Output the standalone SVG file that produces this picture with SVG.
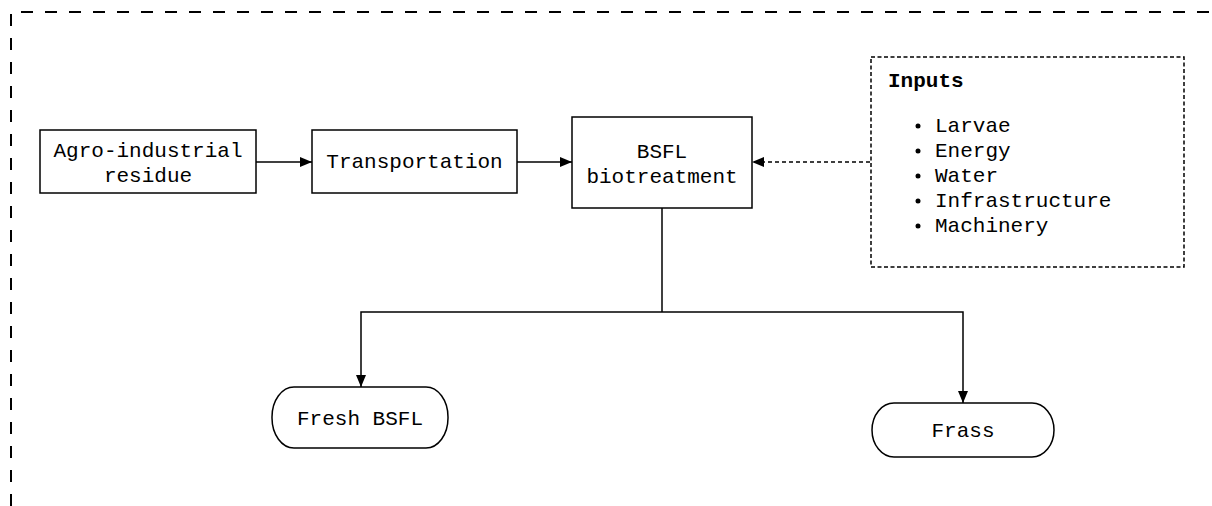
<svg xmlns="http://www.w3.org/2000/svg" width="1212" height="506" viewBox="0 0 1212 506">
<style>
.box{fill:#fff;stroke:#000;stroke-width:1.5}
.dot{fill:none;stroke:#000;stroke-width:1.5;stroke-dasharray:4 2.5}
.t{font-family:"Liberation Mono","Courier New",monospace;font-size:21px;fill:#000}
.c{text-anchor:middle}
.b{font-weight:bold}
.ln{fill:none;stroke:#000;stroke-width:1.5}
.dl{fill:none;stroke:#000;stroke-width:1.5;stroke-dasharray:4 3}
.frame{fill:none;stroke:#000;stroke-width:2;stroke-dasharray:12 12}
</style>
<defs>
<marker id="ah" viewBox="0 0 12 10" refX="12" refY="5" markerWidth="12" markerHeight="10" markerUnits="userSpaceOnUse" orient="auto">
<path d="M0,0 L12,5 L0,10 Z" fill="#000"/>
</marker>
</defs>
<rect width="1212" height="506" fill="#fff"/>
<path class="frame" d="M11,506 L11,12 L1212,12"/>
<g id="connectors">
<line class="ln" x1="256" y1="162" x2="312" y2="162" marker-end="url(#ah)"/>
<line class="ln" x1="517" y1="162" x2="572" y2="162" marker-end="url(#ah)"/>
<line class="dl" x1="870" y1="162" x2="752" y2="162" marker-end="url(#ah)"/>
<path class="ln" d="M662,208 L662,312"/>
<path class="ln" d="M662,312 L361,312 L361,387" marker-end="url(#ah)"/>
<path class="ln" d="M662,312 L963,312 L963,403" marker-end="url(#ah)"/>
</g>
<g id="agro">
<rect class="box" x="40" y="130" width="216" height="63"/>
<text class="t c" x="148" y="157">Agro-industrial</text>
<text class="t c" x="148" y="182">residue</text>
</g>
<g id="transportation">
<rect class="box" x="312" y="130" width="205" height="63"/>
<text class="t c" x="414.5" y="168">Transportation</text>
</g>
<g id="bsfl">
<rect class="box" x="572" y="117" width="180" height="91"/>
<text class="t c" x="662" y="158">BSFL</text>
<text class="t c" x="662" y="183">biotreatment</text>
</g>
<g id="inputs">
<rect class="dot" x="871" y="57" width="313" height="210"/>
<text class="t b" x="888" y="87">Inputs</text>
<g class="t">
<circle cx="918" cy="126" r="2.5"/>
<circle cx="918" cy="151" r="2.5"/>
<circle cx="918" cy="176" r="2.5"/>
<circle cx="918" cy="201" r="2.5"/>
<circle cx="918" cy="226" r="2.5"/>
<text x="935" y="132">Larvae</text>
<text x="935" y="157">Energy</text>
<text x="935" y="182">Water</text>
<text x="935" y="207">Infrastructure</text>
<text x="935" y="232">Machinery</text>
</g>
</g>
<g id="fresh">
<rect class="box" x="272" y="387" width="176" height="61" rx="22" ry="30"/>
<text class="t c" x="360" y="425">Fresh BSFL</text>
</g>
<g id="frass">
<rect class="box" x="872" y="403" width="182" height="54" rx="22" ry="27"/>
<text class="t c" x="963" y="437">Frass</text>
</g>
</svg>
